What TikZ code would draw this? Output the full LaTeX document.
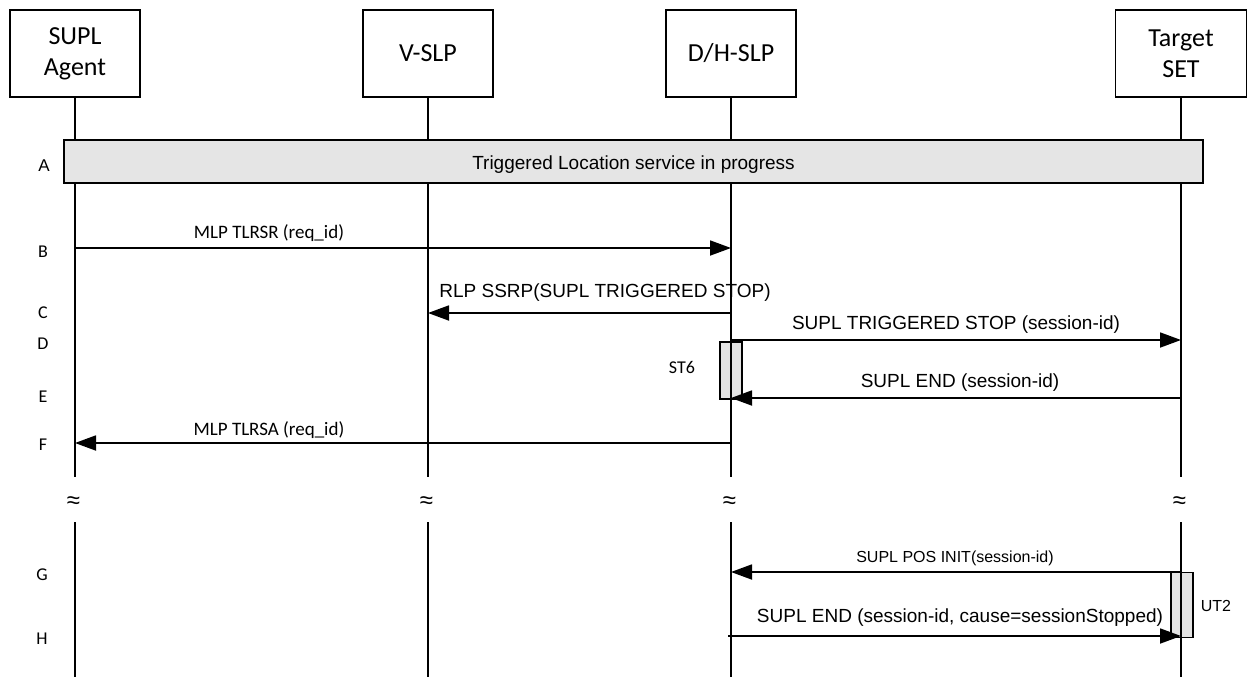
\documentclass[tikz,border=0pt]{standalone}
\usepackage{fontspec}
\setmainfont{Carlito}
\newfontfamily\arial{Liberation Sans}
\usetikzlibrary{arrows.meta}
\begin{document}
\begin{tikzpicture}[x=1pt,y=-1pt,
  entity/.style={draw,line width=1.3pt,minimum width=130pt,minimum height=87pt,align=center,inner sep=0pt,font=\fontsize{26}{31}\selectfont},
  life/.style={line width=1.3pt},
  msg/.style={line width=1.8pt,-{Triangle[length=21pt,width=15pt]}},
  actbox/.style={draw,line width=1.3pt,fill=black!11},
  band/.style={draw,line width=1.6pt,fill=black!10},
  rowlab/.style={font=\fontsize{18}{20}\selectfont},
  clab/.style={font=\fontsize{19}{22}\selectfont,anchor=base},
  alab/.style={font=\arial\fontsize{19}{22}\selectfont,anchor=base},
  brk/.style={font=\arial\fontsize{24}{26}\selectfont,inner sep=0pt}]
\useasboundingbox (0,0) rectangle (1249,677);
% entities
\node[entity] (sa) at (75,53.5) {SUPL\\Agent};
\node[entity] (vs) at (428,53.5) {V-SLP};
\node[entity] (hs) at (731,53.5) {D/H-SLP};
\node[entity,minimum width=131pt] (ts) at (1181,53.5) {Target\\SET};
% lifeline break coordinates
\foreach \n/\x in {sa/75,vs/428,hs/731,ts/1181}{
  \coordinate (\n-b1) at (\x,477);
  \coordinate (\n-b2) at (\x,522);
  \coordinate (\n-end) at (\x,677);
}
% activation boxes
\node[actbox,minimum width=22pt,minimum height=57pt,inner sep=0pt] (st6) at (731,370.5) {};
\node[actbox,minimum width=22pt,minimum height=65pt,inner sep=0pt] (ut2) at (1182,605) {};
% lifelines
\foreach \n in {sa,vs,hs,ts}{
  \draw[life] (\n.south) -- (\n-b1);
  \draw[life] (\n-b2) -- (\n-end);
  \node[brk] (\n-apx) at ([xshift=-1.5pt]\n-b1 |- 0,503) {≈};
}
% band A
\node[band,minimum width=1139pt,minimum height=43pt,inner sep=0pt] (bandA) at (633.5,161.5) {};
\node[font=\arial\fontsize{19}{22}\selectfont] (bandtxt) at (633.5,165) {Triggered Location service in progress};
% row labels
\node[font=\arial\fontsize{17}{20}\selectfont] (lA) at (44,166) {A};
\node[rowlab] (lB) at (43,252) {B};
\node[rowlab] (lC) at (43,313) {C};
\node[rowlab] (lD) at (43,344) {D};
\node[rowlab] (lE) at (43,397) {E};
\node[rowlab] (lF) at (43,445) {F};
\node[rowlab] (lG) at (42,575) {G};
\node[rowlab] (lH) at (42,639) {H};
% message end points
\coordinate (bS) at (sa.south |- 0,248);
\coordinate (bT) at (hs.south |- 0,248);
\coordinate (cS) at (hs.south |- 0,313);
\coordinate (cT) at (vs.south |- 0,313);
\coordinate (dS) at (hs.south |- 0,340);
\coordinate (dT) at (ts.south |- 0,340);
\coordinate (eS) at (ts.south |- 0,398);
\coordinate (eT) at (hs.south |- 0,398);
\coordinate (fS) at (hs.south |- 0,443);
\coordinate (fT) at (sa.south |- 0,443);
\coordinate (gS) at (ts.south |- 0,572);
\coordinate (gT) at (hs.south |- 0,572);
\coordinate (hS) at ([xshift=-3pt]hs.south |- 0,636);
\coordinate (hT) at (ts.south |- 0,636);
% messages
\draw[msg] (bS) -- (bT);
\draw[msg] (cS) -- (cT);
\draw[msg] (dS) -- (dT);
\draw[msg] (eS) -- (eT);
\draw[msg] (fS) -- (fT);
\draw[msg] (gS) -- (gT);
\draw[msg] (hS) -- (hT);
% message labels
\node[clab] (mB) at (269,238) {MLP TLRSR (req\_id)};
\node[alab] (mC) at (605,297) {RLP SSRP(SUPL TRIGGERED STOP)};
\node[alab] (mD) at (956,329) {SUPL TRIGGERED STOP (session-id)};
\node[alab] (mE) at (960,387) {SUPL END (session-id)};
\node[clab] (mF) at (269,435) {MLP TLRSA (req\_id)};
\node[alab,font=\arial\fontsize{16}{19}\selectfont] (mG) at (955,562) {SUPL POS INIT(session-id)};
\node[alab] (mH) at (960,622) {SUPL END (session-id, cause=sessionStopped)};
\node[font=\fontsize{18}{20}\selectfont] (tST6) at (682,367) {ST6};
\node[font=\arial\fontsize{16}{19}\selectfont] (tUT2) at (1216,606) {UT2};
\end{tikzpicture}
\end{document}
